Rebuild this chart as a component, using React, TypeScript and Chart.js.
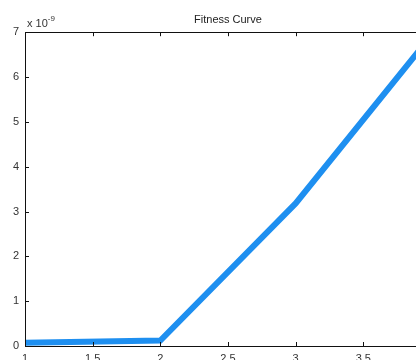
import React, { useEffect, useRef } from "react";
import { Chart, registerables } from "chart.js";

Chart.register(...registerables);

const xValues: number[] = [1, 2, 3, 4];
const fitness: number[] = [0.07, 0.12, 3.18, 6.92]; // in units of 1e-9
const exponentLabel = "-9";
const xTicks: number[] = [1, 1.5, 2, 2.5, 3, 3.5, 4];
const yTicks: number[] = [0, 1, 2, 3, 4, 5, 6, 7];
const titleText = "Fitness Curve";

const FONT = "'Liberation Sans', Arial, sans-serif";

const framePlugin = {
  id: "frame",
  afterDraw(chart: any) {
    const { ctx, chartArea, scales } = chart;
    const { left, right, top, bottom } = chartArea;
    ctx.save();
    ctx.strokeStyle = "#111";
    ctx.lineWidth = 1;
    ctx.beginPath();
    ctx.rect(Math.round(left) + 0.5, Math.round(top) + 0.5, Math.round(right - left), Math.round(bottom - top));
    ctx.stroke();
    const L = 4;
    ctx.beginPath();
    xTicks.forEach((v) => {
      const px = Math.round(scales.x.getPixelForValue(v)) + 0.5;
      ctx.moveTo(px, bottom);
      ctx.lineTo(px, bottom - L);
      ctx.moveTo(px, top);
      ctx.lineTo(px, top + L);
    });
    yTicks.forEach((v) => {
      const py = Math.round(scales.y.getPixelForValue(v)) + 0.5;
      ctx.moveTo(left, py);
      ctx.lineTo(left + L, py);
      ctx.moveTo(right, py);
      ctx.lineTo(right - L, py);
    });
    ctx.stroke();
    // exponent label
    ctx.fillStyle = "#333";
    ctx.textBaseline = "alphabetic";
    ctx.textAlign = "left";
    ctx.font = `11px ${FONT}`;
    ctx.fillText("x 10", left + 2, top - 5);
    const w = ctx.measureText("x 10").width;
    ctx.font = `8px ${FONT}`;
    ctx.fillText(exponentLabel, left + 2 + w, top - 11);
    ctx.restore();
  },
};

export default function App() {
  const ref = useRef<HTMLCanvasElement>(null);
  useEffect(() => {
    if (!ref.current) return;
    const chart = new Chart(ref.current, {
      type: "line",
      data: {
        datasets: [
          {
            data: xValues.map((x, i) => ({ x, y: fitness[i] })),
            borderColor: "#1e8ff0",
            borderWidth: 6,
            pointRadius: 0,
            fill: false,
            tension: 0,
            clip: false as any,
          },
        ],
      },
      options: {
        responsive: false,
        animation: false,
        layout: { padding: 0 },
        plugins: {
          legend: { display: false },
          tooltip: { enabled: false },
          title: {
            display: true,
            text: titleText,
            color: "#222",
            font: { family: FONT, size: 11, weight: "normal" as any, lineHeight: 1.2 },
            padding: { top: 13, bottom: 6 },
            fullSize: false,
          },
        },
        scales: {
          x: {
            type: "linear",
            min: 1,
            max: 4,
            afterBuildTicks: (s: any) => {
              s.ticks = xTicks.map((v) => ({ value: v }));
            },
            afterFit: (s: any) => {
              s.height = 26;
            },
            ticks: {
              color: "#333",
              font: { family: FONT, size: 11 },
              padding: 6,
              maxRotation: 0,
              autoSkip: false,
              callback: (v: any) => String(Number(v)),
            },
            grid: { drawOnChartArea: false, drawTicks: false },
            border: { display: false },
          },
          y: {
            type: "linear",
            min: 0,
            max: 7,
            afterBuildTicks: (s: any) => {
              s.ticks = yTicks.map((v) => ({ value: v }));
            },
            afterFit: (s: any) => {
              s.width = 25;
            },
            ticks: {
              color: "#333",
              font: { family: FONT, size: 11 },
              padding: 6,
              callback: (v: any) => String(Number(v)),
            },
            grid: { drawOnChartArea: false, drawTicks: false },
            border: { display: false },
          },
        },
      },
      plugins: [framePlugin],
    });
    return () => chart.destroy();
  }, []);
  return (
    <div style={{ position: "fixed", left: 0, top: 0, width: 440, height: 372, background: "#fff" }}>
      <canvas ref={ref} width={440} height={372} style={{ display: "block" }} />
    </div>
  );
}
